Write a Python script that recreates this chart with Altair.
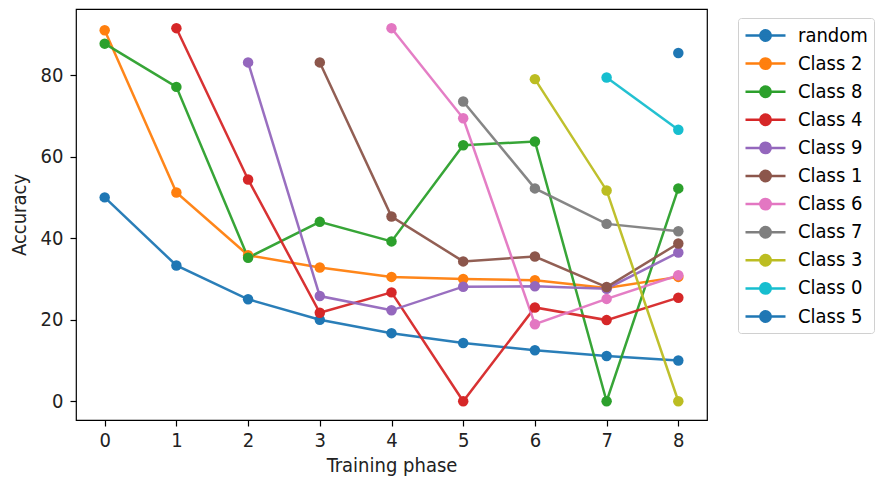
import altair as alt
import pandas as pd

phases = [0, 1, 2, 3, 4, 5, 6, 7, 8]
series_names = ["random", "Class 2", "Class 8", "Class 4", "Class 9", "Class 1",
                "Class 6", "Class 7", "Class 3", "Class 0", "Class 5"]
colors = ["#1f77b4", "#ff7f0e", "#2ca02c", "#d62728", "#9467bd", "#8c564b",
          "#e377c2", "#7f7f7f", "#bcbd22", "#17becf", "#1f77b4"]

random_acc = [50.0, 33.3, 25.0, 20.0, 16.7, 14.3, 12.5, 11.1, 10.0]
class2 = [91.0, 51.2, 35.8, 32.8, 30.5, 30.0, 29.7, 27.8, 30.5]
class8 = [87.7, 77.1, 35.2, 44.0, 39.2, 62.8, 63.7, 0.0, 52.2]
class4 = [None, 91.5, 54.4, 21.7, 26.7, 0.0, 23.0, 19.9, 25.4]
class9 = [None, None, 83.1, 25.8, 22.3, 28.1, 28.2, 27.6, 36.5]
class1 = [None, None, None, 83.1, 45.3, 34.3, 35.5, 28.0, 38.7]
class6 = [None, None, None, None, 91.5, 69.4, 18.9, 25.1, 30.9]
class7 = [None, None, None, None, None, 73.5, 52.2, 43.5, 41.7]
class3 = [None, None, None, None, None, None, 79.0, 51.7, 0.0]
class0 = [None, None, None, None, None, None, None, 79.4, 66.6]
class5 = [None, None, None, None, None, None, None, None, 85.4]

all_series = [random_acc, class2, class8, class4, class9, class1,
              class6, class7, class3, class0, class5]

rows = []
for name, vals in zip(series_names, all_series):
    for p, v in zip(phases, vals):
        if v is not None:
            rows.append({"phase": p, "acc": v, "series": name})
df = pd.DataFrame(rows)

font = "DejaVu Sans Condensed"
fs = 20
r = 0.52
sym = (f"M-2,0L2,0M{r},0A{r},{r} 0 1 1 -{r},0A{r},{r} 0 1 1 {r},0Z")

color = alt.Color(
    "series:N",
    scale=alt.Scale(domain=series_names, range=colors),
    legend=alt.Legend(
        title=None, orient="none", legendX=662, legendY=9,
        symbolType=sym, symbolSize=400, symbolStrokeWidth=2.5,
        symbolOffset=10,
        labelFontSize=fs, labelFont=font, labelColor="black",
        labelOffset=21, rowPadding=6.1, padding=6,
        strokeColor="#d0d0d0", fillColor="white", cornerRadius=3,
        symbolOpacity=1,
    ),
)

x = alt.X("phase:Q", title="Training phase",
          scale=alt.Scale(domain=[-0.4, 8.4], nice=False, zero=False),
          axis=alt.Axis(values=phases, format="d", grid=False))
y = alt.Y("acc:Q", title="Accuracy",
          scale=alt.Scale(domain=[-4.6, 96.2], nice=False, zero=False),
          axis=alt.Axis(values=[0, 20, 40, 60, 80], grid=False))

lines = alt.Chart(df).mark_line(strokeWidth=2.5, opacity=0.95).encode(
    x=x, y=y, color=color, detail="series:N", order="phase:Q")
points = alt.Chart(df).mark_point(filled=True, size=110, opacity=1).encode(
    x=x, y=y, color=color)

chart = alt.layer(lines, points).properties(
    width=631, height=411,
    autosize=alt.AutoSizeParams(type="none"),
    padding={"left": 76, "top": 9, "right": 171, "bottom": 62},
    background="white",
).configure_view(
    stroke="black", strokeWidth=1.2
).configure_axis(
    domain=False, tickColor="black", tickSize=6, tickWidth=1.2,
    labelFont=font, labelFontSize=fs, labelColor="#222222",
    titleFont=font, titleFontSize=fs, titleColor="#222222", titleFontWeight="normal",
).configure_axisX(titlePadding=5, labelPadding=4).configure_axisY(titlePadding=11, labelPadding=7)

chart.save("out.html", embed_options={"renderer": "svg", "actions": False})
